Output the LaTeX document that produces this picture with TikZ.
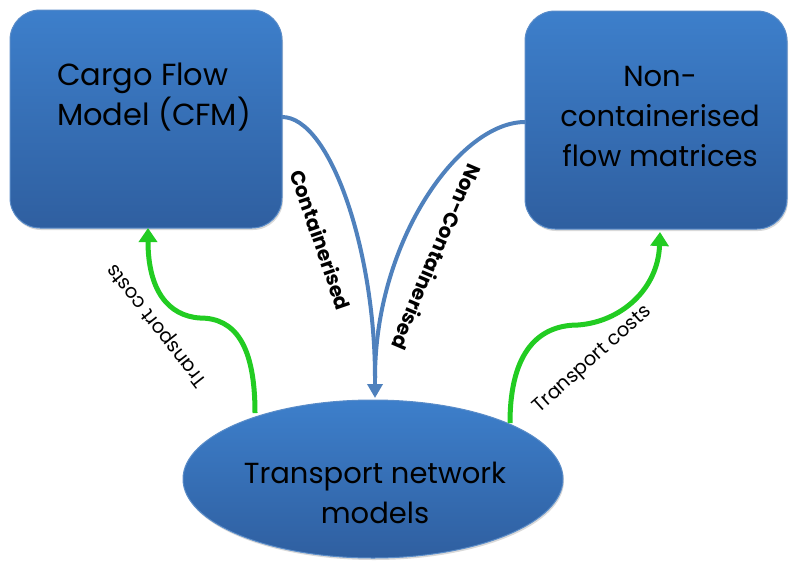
\documentclass[tikz,border=0pt]{standalone}
\usepackage{fontspec}
\setmainfont{Poppins}
\usetikzlibrary{arrows.meta,shapes.geometric,shadows}
\definecolor{boxtop}{RGB}{61,127,203}
\definecolor{boxbot}{RGB}{47,95,160}
\definecolor{boxedge}{RGB}{90,140,200}
\definecolor{flowblue}{RGB}{79,129,189}
\definecolor{costgreen}{RGB}{34,204,34}
\tikzset{
  x=1pt,y=-1pt,
  modelbox/.style={draw=boxedge,line width=1pt,rounded corners=30pt,top color=boxtop,bottom color=boxbot,
    drop shadow={shadow xshift=1pt,shadow yshift=-2pt,opacity=0.3},inner sep=0pt},
  netell/.style={ellipse,draw=boxedge,line width=1pt,top color=boxtop,bottom color=boxbot,
    drop shadow={shadow xshift=1pt,shadow yshift=-2pt,opacity=0.3},inner sep=0pt},
  bigtext/.style={font=\fontsize{29}{40}\selectfont,align=center,text=black},
  flow/.style={draw=flowblue,line width=4pt},
  cost/.style={draw=costgreen,line width=5pt,-{Triangle[length=14pt,width=18pt]}},
  costlbl/.style={font=\fontsize{19.5}{22}\selectfont},
  flowlbl/.style={font=\bfseries\fontsize{20}{22}\selectfont},
}
\begin{document}
\begin{tikzpicture}
\useasboundingbox (0,0) rectangle (789,560);
\node[modelbox,minimum width=272pt,minimum height=218pt] (cfm) at (146,119) {};
\node[modelbox,minimum width=262pt,minimum height=218pt] (ncf) at (656,120) {};
\node[netell,minimum width=380pt,minimum height=158pt] (tnm) at (373,479) {};
\node[bigtext,font=\fontsize{30.5}{40}\selectfont,align=left,anchor=west,inner sep=0pt] (cfmt) at (57,97) {Cargo Flow\\Model (CFM)};
\node[bigtext] (ncft) at (660,117) {Non-\\containerised\\flow matrices};
\node[bigtext] (tnmt) at (375,493) {Transport network\\models};
\coordinate (cfmR) at (282,117);
\coordinate (ncfL) at (525,122);
\coordinate (tip) at (375,398);
\coordinate (mid) at (375,378);
\draw[flow] (cfmR) .. controls (330,117) and (375,250) .. (mid);
\draw[flow] (ncfL) .. controls (460,122) and (375,240) .. (mid);
\draw[flow,-{Triangle[length=14pt,width=15pt]}] (mid) -- (tip);
\coordinate (gl0) at (255,413);
\coordinate (gl1) at (200,318);
\coordinate (gl2) at (148,228);
\draw[cost] (gl0) .. controls (255,345) and (235,318) .. (gl1) .. controls (168,316) and (148,290) .. (gl2);
\coordinate (gr0) at (510,423);
\coordinate (gr1) at (578,325);
\coordinate (gr2) at (660,232);
\draw[cost] (gr0) .. controls (510,350) and (540,325) .. (gr1) .. controls (620,322) and (658,290) .. (gr2);
\node[costlbl,rotate=128] (lcost) at (158,325) {Transport costs};
\node[costlbl,rotate=42] (rcost) at (593,360) {Transport costs};
\node[flowlbl,rotate=-71] (contl) at (321,240) {Containerised};
\node[flowlbl,rotate=-113] (ncontl) at (437,257) {Non-Containerised};
\end{tikzpicture}
\end{document}
